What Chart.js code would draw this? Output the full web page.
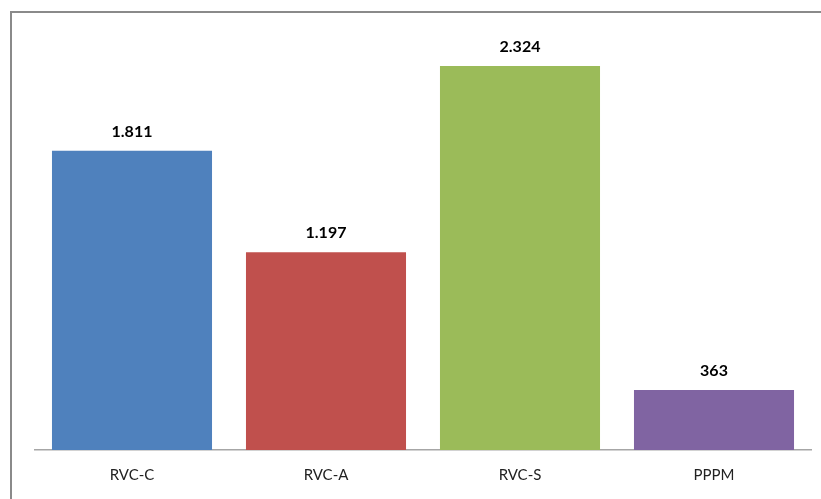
<!DOCTYPE html>
<html>
<head>
<meta charset="utf-8">
<script src="https://cdn.jsdelivr.net/npm/chart.js@4"></script>
<style>
  html, body { margin: 0; padding: 0; background: #fff; overflow: hidden; }
  #wrap { position: relative; width: 821px; height: 499px; }
  #frame { position: absolute; left: 10px; top: 11px; width: 900px; height: 600px; border: 2px solid #8a8a8a; box-sizing: border-box; pointer-events: none; }
  canvas { position: absolute; left: 0; top: 0; }
</style>
</head>
<body>
<div id="wrap">
  <div id="frame"></div>
  <canvas id="c" width="821" height="499"></canvas>
</div>
<script>
const categories = ["RVC-C", "RVC-A", "RVC-S", "PPPM"];
const values = [1811, 1197, 2324, 363];
const barColors = ["#4F81BD", "#C0504D", "#9BBB59", "#8064A2"];

function fmt(v) {
  return String(v).replace(/\B(?=(\d{3})+(?!\d))/g, ".");
}

const valueLabels = {
  id: "valueLabels",
  afterDatasetsDraw(chart) {
    const ctx = chart.ctx;
    const meta = chart.getDatasetMeta(0);
    ctx.save();
    ctx.font = "bold 16px Lato";
    ctx.fillStyle = "#000";
    ctx.textAlign = "center";
    ctx.textBaseline = "alphabetic";
    meta.data.forEach((bar, i) => {
      ctx.fillText(fmt(values[i]), bar.x, bar.y - 14);
    });
    ctx.restore();
  }
};

new Chart(document.getElementById("c"), {
  type: "bar",
  data: {
    labels: categories,
    datasets: [{
      data: values,
      backgroundColor: barColors,
      borderWidth: 0,
      categoryPercentage: 0.825,
      barPercentage: 1.0
    }]
  },
  options: {
    responsive: false,
    animation: false,
    layout: { padding: { left: 35, right: 10, top: 37, bottom: 7 } },
    plugins: { legend: { display: false }, tooltip: { enabled: false } },
    scales: {
      x: {
        grid: { display: false },
        border: { display: true, color: "#A6A6A6", width: 1.5 },
        ticks: { color: "#222", font: { family: "Lato", size: 15 }, padding: 8 }
      },
      y: {
        display: false,
        min: 0,
        max: 2500
      }
    }
  },
  plugins: [valueLabels]
});
</script>
</body>
</html>
